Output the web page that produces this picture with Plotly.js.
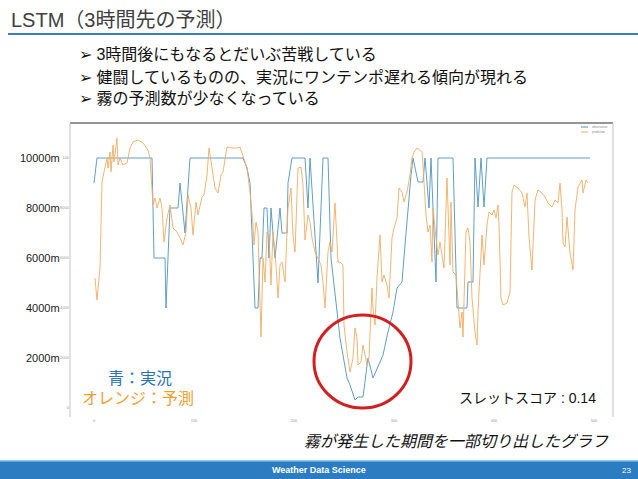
<!DOCTYPE html>
<html>
<head>
<meta charset="utf-8">
<script src="https://cdn.plot.ly/plotly-3.0.1.min.js"></script>
<style>html,body{margin:0;padding:0;background:#fff;}#chart{width:638px;height:479px;}</style>
</head>
<body>
<div id="chart"></div>
<script>
// ---- data (time step index, visibility in metres) ----
const actualX = [0,3,58,60,71,72,76,84,86,91,96,149,153,156,161,164,166,168,170,173,175,177,181,186,188,193,194,198,211,214,216,224,229,234,237,243,246,253,256,261,264,269,271,274,279,283,289,294,299,303,308,311,314,317,319,324,329,331,335,337,339,342,344,359,363,373,374,379,381,384,387,390,393,496];
const actualY = [9000,10000,10000,6000,6000,4000,8000,8000,9000,7000,10000,10000,9600,9000,4000,4000,6000,6000,8000,8000,6000,8000,6000,8000,7000,7000,9000,10000,10000,8000,10000,5000,10000,10000,6000,3840,2800,1200,920,320,440,440,1040,2000,1200,1600,2120,3040,3840,4800,5040,6520,8120,9320,10000,9040,9040,10000,8000,10000,8000,5040,10000,10000,4000,4000,5040,5040,10000,8040,10000,8040,10000,10000];

const predX = [1,3,6,8,10,13,14,16,17,19,20,23,24,26,29,33,36,39,44,49,54,56,59,61,63,66,68,70,73,76,79,83,86,89,92,94,97,99,102,104,108,110,113,115,118,121,124,127,129,133,138,143,146,149,153,156,159,160,162,164,167,169,171,173,175,177,179,182,184,186,188,191,194,197,199,201,203,204,207,209,211,214,216,218,221,224,227,229,231,234,236,238,241,244,246,249,250,253,256,259,261,263,264,267,269,271,273,275,278,279,281,283,284,286,288,290,293,295,298,300,303,305,308,310,313,316,318,320,323,328,329,332,334,336,338,339,342,344,346,348,350,353,354,356,357,359,362,364,366,368,369,372,374,376,378,381,383,384,386,388,390,393,395,398,400,402,404,405,407,409,413,416,418,420,424,428,431,433,435,438,441,444,448,451,454,458,461,464,466,468,469,471,473,476,479,481,484,488,489,492,494];
const predY = [5200,4320,5600,9040,9440,10000,9600,10240,9440,10520,9840,10800,9720,10000,9720,9800,10400,10640,10720,10600,10320,10000,8120,8400,8000,8400,8000,6640,7600,8120,7200,7040,6800,6520,7040,8520,8000,6920,8240,7720,8440,8520,9320,10400,9600,8800,8600,9320,9440,10440,10400,10400,10440,10040,9600,8640,7320,6520,7440,7040,2840,6000,5040,7040,6920,4920,7040,5720,4400,5720,5840,5040,8000,8800,6920,6240,8520,9600,9640,8920,6720,7720,7440,6800,6240,6000,5720,5040,4000,6240,6640,6240,8200,5840,5840,5720,3320,2240,1440,2000,3200,2800,1720,1840,2520,2120,1720,2000,4800,4000,3320,5200,5840,6920,5040,5320,4920,4400,6800,7200,7600,8800,8640,8240,8640,9320,10000,10240,10400,10240,9720,7720,7040,7320,5840,8000,6800,6120,6640,6000,5600,9200,8000,5720,8240,5440,5320,4400,3200,3840,2840,7040,7200,6640,4400,3040,2520,3840,5440,6920,5720,7320,7840,7720,7920,7600,8120,7320,4400,4120,4200,4640,8640,8920,8800,8600,8040,8600,6840,5520,8320,8720,8600,8440,8200,8040,8320,8200,9000,7920,6600,6440,7640,6200,5520,7920,8840,9120,8600,9120,9000];

const xTicks = [0,100,200,300,400,500];
const yTicks = [0,2000,4000,6000,8000,10000];
const yTickLabels = ['10000m','8000m','6000m','4000m','2000m'];
const yTickLabelValues = [10000,8000,6000,4000,2000];

const titleText = 'LSTM（3時間先の予測）';
const bullets = ['➢ 3時間後にもなるとだいぶ苦戦している','➢ 健闘しているものの、実況にワンテンポ遅れる傾向が現れる','➢ 霧の予測数が少なくなっている'];
const legendNames = ['observation','prediction'];

// ---- layout helpers ----
const W = 638, H = 479;
const px = x => x / W, py = y => 1 - y / H;
const FONT = 'Liberation Sans, Arial, Noto Sans CJK JP, sans-serif';
const BLUE = '#4f93bf', ORANGE = '#f3ab62';

const traces = [
  {x: actualX, y: actualY, type: 'scatter', mode: 'lines', name: legendNames[0], line: {color: BLUE, width: 0.9}, hoverinfo: 'skip'},
  {x: predX, y: predY, type: 'scatter', mode: 'lines', name: legendNames[1], line: {color: ORANGE, width: 0.9}, hoverinfo: 'skip'}
];

const ann = [];
ann.push({text: titleText, x: px(9), y: py(20), xref: 'paper', yref: 'paper', xanchor: 'left', yanchor: 'middle', showarrow: false, font: {family: FONT, size: 20, color: '#404040'}});
const bulletY = [55, 77, 98];
bullets.forEach((b, i) => ann.push({text: b, x: px(77), y: py(bulletY[i]), xref: 'paper', yref: 'paper', xanchor: 'left', yanchor: 'middle', showarrow: false, font: {family: FONT, size: 16, color: '#111'}}));
yTickLabels.forEach((t, i) => ann.push({text: t, x: px(62), y: yTickLabelValues[i], xref: 'paper', yref: 'y', xanchor: 'right', yanchor: 'middle', showarrow: false, font: {family: FONT, size: 11, color: '#222'}}));
ann.push({text: '青：実況', x: px(140), y: py(378), xref: 'paper', yref: 'paper', xanchor: 'center', yanchor: 'middle', showarrow: false, font: {family: FONT, size: 16, color: '#2a72b5'}});
ann.push({text: 'オレンジ：予測', x: px(138), y: py(398), xref: 'paper', yref: 'paper', xanchor: 'center', yanchor: 'middle', showarrow: false, font: {family: FONT, size: 16, color: '#f0a030'}});
ann.push({text: 'スレットスコア : 0.14', x: px(457), y: py(398), xref: 'paper', yref: 'paper', xanchor: 'left', yanchor: 'middle', showarrow: false, font: {family: FONT, size: 14, color: '#111'}});
ann.push({text: '<i>霧が発生した期間を一部切り出したグラフ</i>', x: px(302), y: py(441), xref: 'paper', yref: 'paper', xanchor: 'left', yanchor: 'middle', showarrow: false, font: {family: FONT, size: 16, color: '#111'}});
ann.push({text: '<b>Weather Data Science</b>', x: px(319), y: py(470), xref: 'paper', yref: 'paper', xanchor: 'center', yanchor: 'middle', showarrow: false, font: {family: FONT, size: 9, color: '#fff'}});
ann.push({text: '23', x: px(626), y: py(470), xref: 'paper', yref: 'paper', xanchor: 'center', yanchor: 'middle', showarrow: false, font: {family: FONT, size: 8, color: '#fff'}});
legendNames.forEach((n, i) => ann.push({text: n, x: px(590), y: py(127 + i * 5), xref: 'paper', yref: 'paper', xanchor: 'left', yanchor: 'middle', showarrow: false, font: {family: FONT, size: 3, color: '#888'}}));

const shapes = [
  // title underline
  {type: 'line', xref: 'paper', yref: 'paper', x0: px(8), x1: 1, y0: py(34), y1: py(34), line: {color: '#3b7dbd', width: 2}},
  // chart frame
  {type: 'line', xref: 'paper', yref: 'paper', x0: px(70), x1: px(613), y0: py(123), y1: py(123), line: {color: '#707070', width: 1.5}},
  {type: 'line', xref: 'paper', yref: 'paper', x0: px(70), x1: px(70), y0: py(123), y1: py(417), line: {color: '#c4c4c4', width: 1}},
  {type: 'line', xref: 'paper', yref: 'paper', x0: px(613), x1: px(613), y0: py(123), y1: py(417), line: {color: '#c4c4c4', width: 1}},
  // legend samples
  {type: 'line', xref: 'paper', yref: 'paper', x0: px(581), x1: px(588), y0: py(127), y1: py(127), line: {color: BLUE, width: 1}},
  {type: 'line', xref: 'paper', yref: 'paper', x0: px(581), x1: px(588), y0: py(132), y1: py(132), line: {color: ORANGE, width: 1}},
  // red circle
  {type: 'circle', xref: 'paper', yref: 'paper', x0: px(314), x1: px(411), y0: py(408), y1: py(315), line: {color: '#d02020', width: 3}},
  // footer
  {type: 'rect', xref: 'paper', yref: 'paper', x0: 0, x1: 1, y0: 0, y1: py(461), fillcolor: '#2b7cc0', line: {width: 0}},
  {type: 'line', xref: 'paper', yref: 'paper', x0: 0, x1: 1, y0: py(461), y1: py(461), line: {color: '#6cb6ea', width: 1.5}}
];

const layout = {
  width: W, height: H,
  margin: {l: 0, r: 0, t: 0, b: 0, pad: 0},
  paper_bgcolor: '#fff', plot_bgcolor: '#fff',
  showlegend: false,
  xaxis: {domain: [px(70), px(613)], range: [-24, 519], tickvals: xTicks, showgrid: false, zeroline: false, showline: false, ticks: '', tickfont: {family: FONT, size: 4, color: '#999'}},
  yaxis: {domain: [py(417), py(123)], range: [-360, 11400], tickvals: yTicks, showgrid: false, zeroline: false, showline: false, ticks: '', tickfont: {family: FONT, size: 4, color: '#999'}},
  annotations: ann,
  shapes: shapes
};

Plotly.newPlot('chart', traces, layout, {staticPlot: true, displayModeBar: false});
</script>
</body>
</html>
